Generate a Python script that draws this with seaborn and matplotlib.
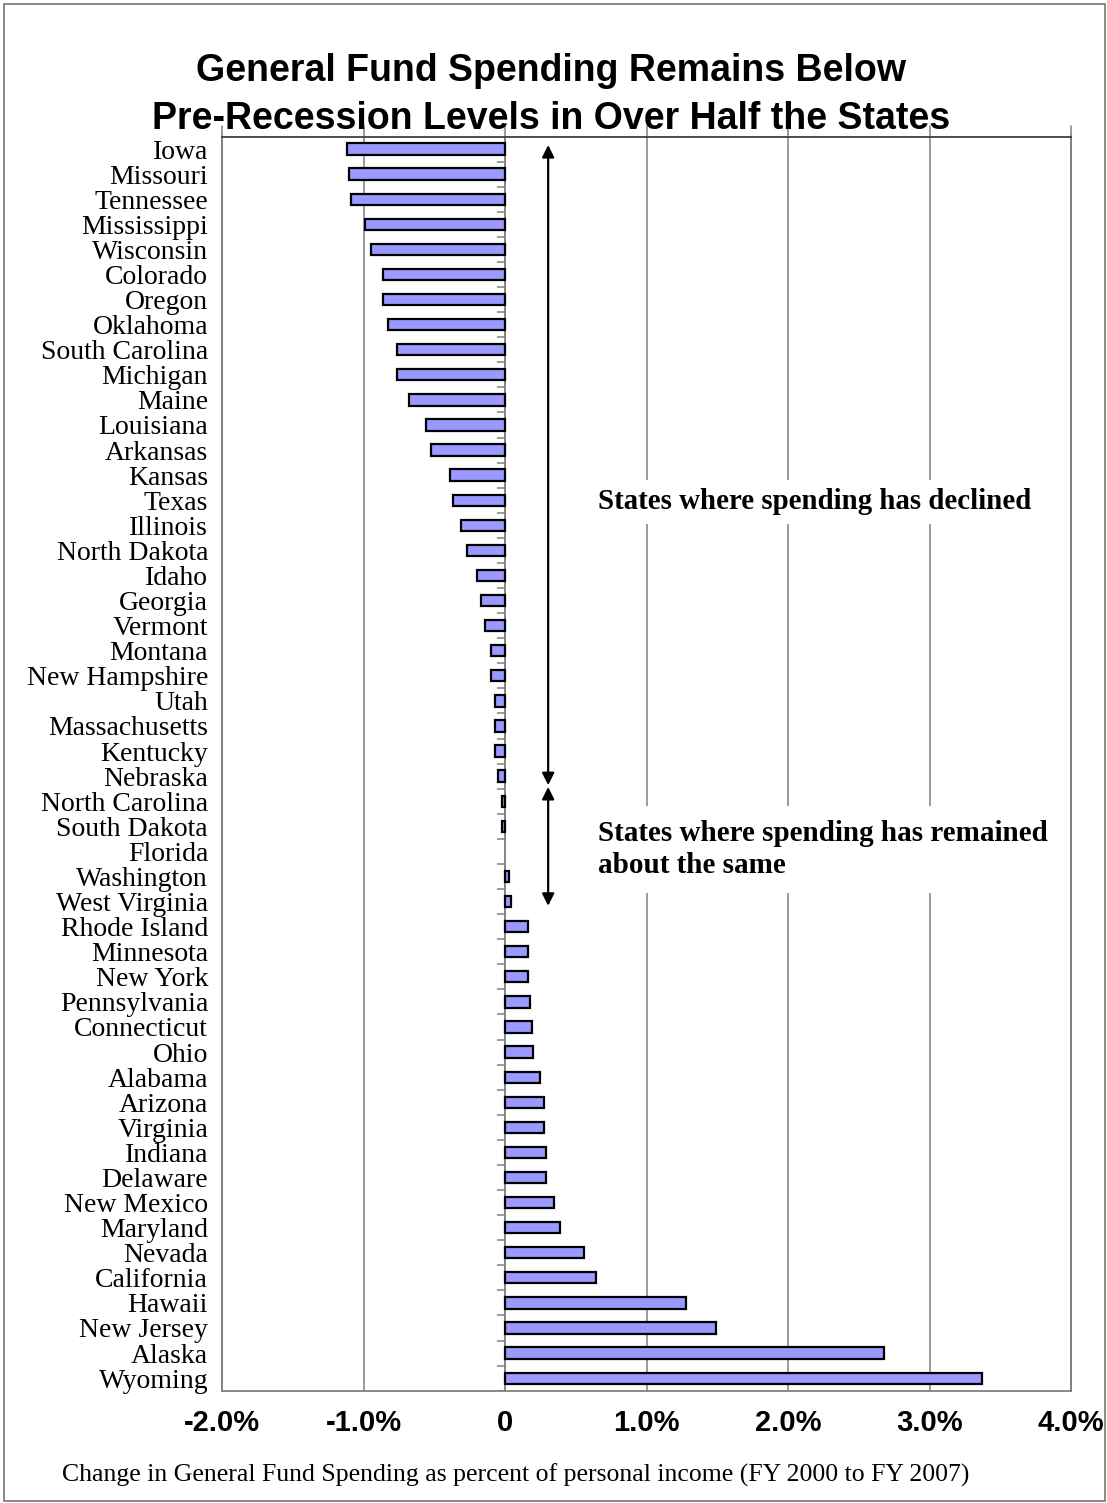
import numpy as np
import pandas as pd
import seaborn as sns
import matplotlib.pyplot as plt
from matplotlib.patches import Rectangle

states = ['Iowa', 'Missouri', 'Tennessee', 'Mississippi', 'Wisconsin', 'Colorado', 'Oregon',
          'Oklahoma', 'South Carolina', 'Michigan', 'Maine', 'Louisiana', 'Arkansas', 'Kansas',
          'Texas', 'Illinois', 'North Dakota', 'Idaho', 'Georgia', 'Vermont', 'Montana',
          'New Hampshire', 'Utah', 'Massachusetts', 'Kentucky', 'Nebraska', 'North Carolina',
          'South Dakota', 'Florida', 'Washington', 'West Virginia', 'Rhode Island', 'Minnesota',
          'New York', 'Pennsylvania', 'Connecticut', 'Ohio', 'Alabama', 'Arizona', 'Virginia',
          'Indiana', 'Delaware', 'New Mexico', 'Maryland', 'Nevada', 'California', 'Hawaii',
          'New Jersey', 'Alaska', 'Wyoming']
change = [-1.12, -1.10, -1.09, -0.99, -0.95, -0.86, -0.86, -0.83, -0.76, -0.76, -0.68, -0.56,
          -0.52, -0.39, -0.37, -0.31, -0.27, -0.20, -0.17, -0.14, -0.10, -0.10, -0.07, -0.07,
          -0.07, -0.05, -0.02, -0.02, 0.0, 0.03, 0.045, 0.16, 0.16, 0.16, 0.175, 0.19, 0.20,
          0.245, 0.275, 0.275, 0.29, 0.29, 0.345, 0.39, 0.56, 0.64, 1.28, 1.49, 2.68, 3.37]
xticks = [-2, -1, 0, 1, 2, 3, 4]
xtick_labels = ['-2.0%', '-1.0%', '0', '1.0%', '2.0%', '3.0%', '4.0%']

title = 'General Fund Spending Remains Below\nPre-Recession Levels in Over Half the States'
caption = 'Change in General Fund Spending as percent of personal income (FY 2000 to FY 2007)'
note_declined = 'States where spending has declined'
note_same = 'States where spending has remained\nabout the same'

df = pd.DataFrame({'state': states, 'change': change})

sns.set_style('white')
plt.rcParams['text.color'] = 'black'
plt.rcParams['xtick.color'] = 'black'
plt.rcParams['ytick.color'] = 'black'
serif = ['Liberation Serif', 'DejaVu Serif']
sans = ['Liberation Sans', 'DejaVu Sans']
grey = '#808080'

W, H = 1107, 1503
fig = plt.figure(figsize=(W / 100, H / 100), dpi=100)
ax = fig.add_axes([222 / W, 1 - 1390.7 / H, (1071 - 222) / W, (1390.7 - 136.5) / H])

sns.barplot(data=df, x='change', y='state', orient='h', color='#9999FF', saturation=1,
            edgecolor='black', linewidth=1.6, width=0.45, ax=ax, zorder=3)
for p in ax.patches:
    if p.get_width() == 0:
        p.set_edgecolor('none')

ax.set_xlim(-2, 4)
ax.set_ylim(len(states) - 0.5, -0.5)
ax.set_xticks(xticks)
ax.set_xticklabels(xtick_labels, fontfamily=sans, fontweight='bold', fontsize=21)
ax.set_yticks(range(len(states)))
ax.set_yticklabels(states, fontfamily=serif, fontsize=20)
ax.tick_params(axis='x', length=0, pad=13)
ax.tick_params(axis='y', length=0, pad=10)
ax.set_xlabel('')
ax.set_ylabel('')

# gridlines (they poke a little above the top frame, as in the original)
for x in xticks:
    ax.axvline(x, ymin=0, ymax=1.008, color=grey, lw=1.1, zorder=1, clip_on=False)
ax.axvline(0, color=grey, lw=1.1, zorder=2)
# small ticks on the zero axis between categories
ax.hlines(np.arange(len(states)) + 0.5, -0.06, 0, color=grey, lw=1.1, zorder=2)

for side in ['left', 'right', 'bottom']:
    ax.spines[side].set_color(grey)
    ax.spines[side].set_linewidth(1.3)
ax.spines['top'].set_color('#404040')
ax.spines['top'].set_linewidth(1.3)

# annotations with arrows
ax.annotate('', xy=(0.305, -0.16), xytext=(0.305, 25.36),
            arrowprops=dict(arrowstyle='<|-|>', color='black', lw=1.6, mutation_scale=18,
                            shrinkA=0, shrinkB=0), zorder=4)
ax.annotate('', xy=(0.305, 25.43), xytext=(0.305, 30.17),
            arrowprops=dict(arrowstyle='<|-|>', color='black', lw=1.6, mutation_scale=18,
                            shrinkA=0, shrinkB=0), zorder=4)
ax.text(0.657, 14.07, note_declined, fontfamily=serif, fontweight='bold', fontsize=20.8,
        ha='left', va='center', zorder=5,
        bbox=dict(facecolor='white', edgecolor='none', pad=6))
ax.text(0.657, 27.93, note_same, fontfamily=serif, fontweight='bold', fontsize=21,
        ha='left', va='center', linespacing=1.22, zorder=5,
        bbox=dict(facecolor='white', edgecolor='none', pad=10))

fig.text(551 / W, 1 - 95 / H, title, fontfamily=sans, fontweight='bold', fontsize=27,
         ha='center', va='center', linespacing=1.4, zorder=10)
fig.text(62 / W, 1 - 1475 / H, caption, fontfamily=serif, fontsize=18.5,
         ha='left', va='center')

fig.patches.append(Rectangle((4 / W, 2 / H), (W - 6) / W, (H - 6) / H, transform=fig.transFigure,
                             fill=False, edgecolor=grey, lw=1.3))

fig.savefig('out.png', dpi=100)
